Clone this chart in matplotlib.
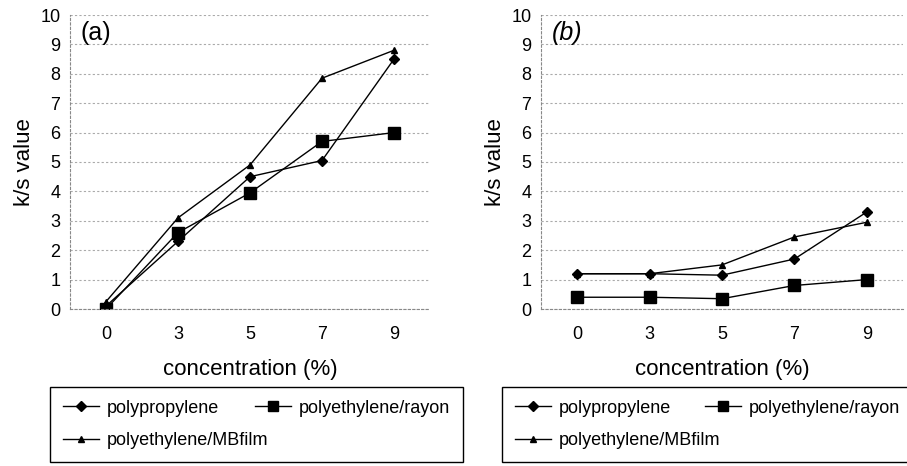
import matplotlib.pyplot as plt

plt.rcParams['font.family'] = ['Liberation Sans', 'DejaVu Sans']

conc = ['0', '3', '5', '7', '9']
labels = ['polypropylene', 'polyethylene/rayon', 'polyethylene/MBfilm']

# panel (a)
pp_a = [0.1, 2.3, 4.5, 5.05, 8.5]
rayon_a = [0.0, 2.6, 3.95, 5.7, 6.0]
mb_a = [0.25, 3.1, 4.9, 7.85, 8.8]

# panel (b)
pp_b = [1.2, 1.2, 1.15, 1.7, 3.3]
rayon_b = [0.4, 0.4, 0.35, 0.8, 1.0]
mb_b = [1.2, 1.2, 1.5, 2.45, 2.95]

W, H = 907, 466
fig = plt.figure(figsize=(W / 100, H / 100), dpi=100)

def panel(left, right, tag, italic, pp, ray, mb, leg_left, colsp):
    ax = fig.add_axes([left / W, 1 - 309 / H, (right - left) / W, (309 - 15) / H])
    x = range(len(conc))
    l1, = ax.plot(x, pp, color='black', lw=1.0, marker='D', ms=5.5)
    l2, = ax.plot(x, ray, color='black', lw=1.0, marker='s', ms=8)
    l3, = ax.plot(x, mb, color='black', lw=1.0, marker='^', ms=4.5)
    ax.set_xlim(-0.5, 4.5)
    ax.set_ylim(0, 10)
    ax.set_yticks(range(0, 11))
    ax.set_xticks(list(x))
    ax.set_xticklabels(conc)
    ax.tick_params(length=0, labelsize=13, pad=7)
    ax.tick_params(axis='x', pad=12.5)
    ax.yaxis.grid(True, color='#aaaaaa', linestyle=(0, (2, 2)), lw=0.8)
    ax.set_axisbelow(True)
    for s in ['top', 'right']:
        ax.spines[s].set_visible(False)
    for s in ['left', 'bottom']:
        ax.spines[s].set_color('#888888')
        ax.spines[s].set_linestyle((0, (2, 2)))
        ax.spines[s].set_linewidth(0.8)
    ax.set_xlabel('concentration (%)', fontsize=16, labelpad=11.5)
    ax.set_ylabel('k/s value', fontsize=16, labelpad=4)
    ax.text(0.03, 0.94, tag, transform=ax.transAxes, fontsize=18,
            style='italic' if italic else 'normal', va='center', ha='left')
    fig.legend([l1, l3, l2], [labels[0], labels[2], labels[1]], ncol=2,
               loc='upper left', bbox_to_anchor=(leg_left / W, 1 - 387 / H),
               borderaxespad=0, fontsize=13, frameon=True, fancybox=False,
               edgecolor='black', framealpha=1, borderpad=0.7,
               labelspacing=0.85, handlelength=2.0, handletextpad=0.45,
               columnspacing=colsp, markerscale=0.85)

panel(70, 430, '(a)', False, pp_a, rayon_a, mb_a, 50, -0.75)
panel(541, 903, '(b)', True, pp_b, rayon_b, mb_b, 502, -0.85)

fig.savefig('out.png', dpi=100, facecolor='white')
